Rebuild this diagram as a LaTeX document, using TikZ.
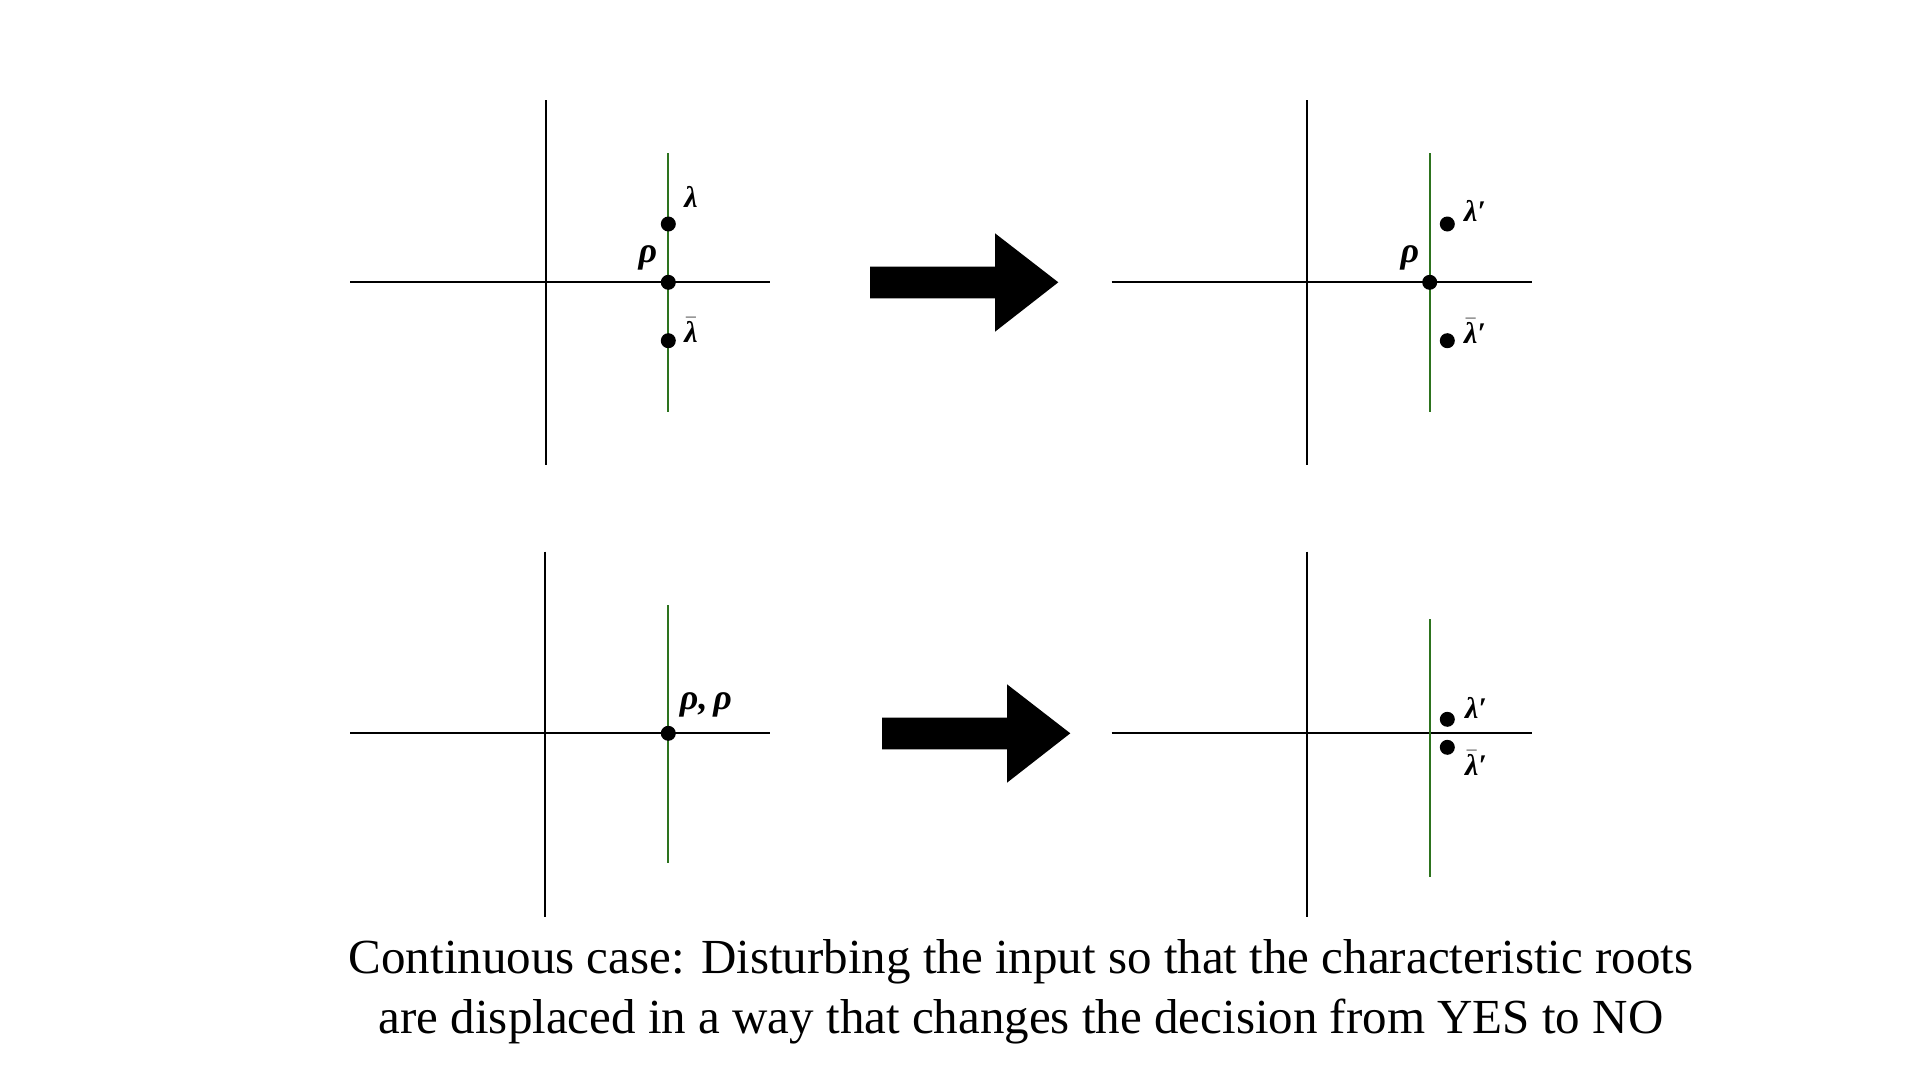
\RequirePackage{fix-cm}
\documentclass[tikz,border=0pt]{standalone}
\usepackage{fontspec}
\setmainfont{Liberation Serif}
\newcommand{\lbar}{$\bar{\hbox{λ}}$}
\begin{document}
\begin{tikzpicture}[x=1pt,y=-1pt,
  axis/.style={line width=2pt,black},
  gline/.style={line width=2pt,draw=rootgreen},
  dot/.style={circle,fill=black,inner sep=0pt,minimum size=15pt},
  lab/.style={inner sep=0pt,font=\fontsize{30}{34}\selectfont\bfseries\itshape},
  rholab/.style={inner sep=0pt,font=\fontsize{36}{40}\selectfont\bfseries\itshape},
  capt/.style={anchor=base,inner sep=0pt,font=\fontsize{49}{60}\selectfont},
  bigarrow/.style={fill=black}]
\definecolor{rootgreen}{RGB}{45,115,30}
\useasboundingbox (0,0) rectangle (1920,1080);
\fill[white] (0,0) rectangle (1920,1080);

% ---- Panel 1 (top-left)
\draw[axis] (350,282.3) -- (770,282.3);
\draw[axis] (545.7,100) -- (545.7,465);
\draw[gline] (668.3,153.3) -- (668.3,411.7);
\node[dot] (l1) at (668.3,224) {};
\node[dot] (r1) at (668.3,282.3) {};
\node[dot] (lb1) at (668.3,340.7) {};
\node[lab] (tl1) at (691,197) {λ};
\node[rholab] (tr1) at (648,258) {ρ};
\node[lab] (tlb1) at (691,330) {\lbar};

% ---- Panel 2 (top-right)
\draw[axis] (1111.7,282.3) -- (1531.7,282.3);
\draw[axis] (1307.3,100) -- (1307.3,465);
\draw[gline] (1429.7,153.3) -- (1429.7,411.7);
\node[dot] (r2) at (1429.7,282.3) {};
\node[dot] (l2) at (1447.3,224) {};
\node[dot] (lb2) at (1447.3,340.7) {};
\node[lab] (tl2) at (1475,211) {λ′};
\node[rholab] (tr2) at (1410,257.5) {ρ};
\node[lab] (tlb2) at (1475,331) {\lbar′};

% ---- Panel 3 (bottom-left)
\draw[axis] (350,733.3) -- (770,733.3);
\draw[axis] (545.3,551.7) -- (545.3,916.7);
\draw[gline] (668.3,605) -- (668.3,862.7);
\node[dot] (r3) at (668.3,733.3) {};
\node[rholab] (tr3) at (706,705) {ρ,\,ρ};

% ---- Panel 4 (bottom-right)
\draw[axis] (1111.7,733.3) -- (1531.7,733.3);
\draw[axis] (1307.3,551.7) -- (1307.3,916.7);
\draw[gline] (1429.7,619) -- (1429.7,876.7);
\node[dot] (l4) at (1447.3,719.3) {};
\node[dot] (lb4) at (1447.3,747.3) {};
\node[lab] (tl4) at (1476,708) {λ′};
\node[lab] (tlb4) at (1476,763) {\lbar′};

% ---- Block arrows
\fill[bigarrow] (870,266.7) -- (995,266.7) -- (995,233.3) -- (1058.3,282.3)
  -- (995,331.7) -- (995,298.3) -- (870,298.3) -- cycle;
\fill[bigarrow] (882,717.7) -- (1007,717.7) -- (1007,684.3) -- (1070.3,733.3)
  -- (1007,782.7) -- (1007,749.3) -- (882,749.3) -- cycle;

% ---- Caption
\node[capt] (cap1) at (1021,973)
  {Continuous case: Disturbing the input so that the characteristic roots};
\node[capt] (cap2) at (1021,1033)
  {are displaced in a way that changes the decision from YES to NO};
\end{tikzpicture}
\end{document}
